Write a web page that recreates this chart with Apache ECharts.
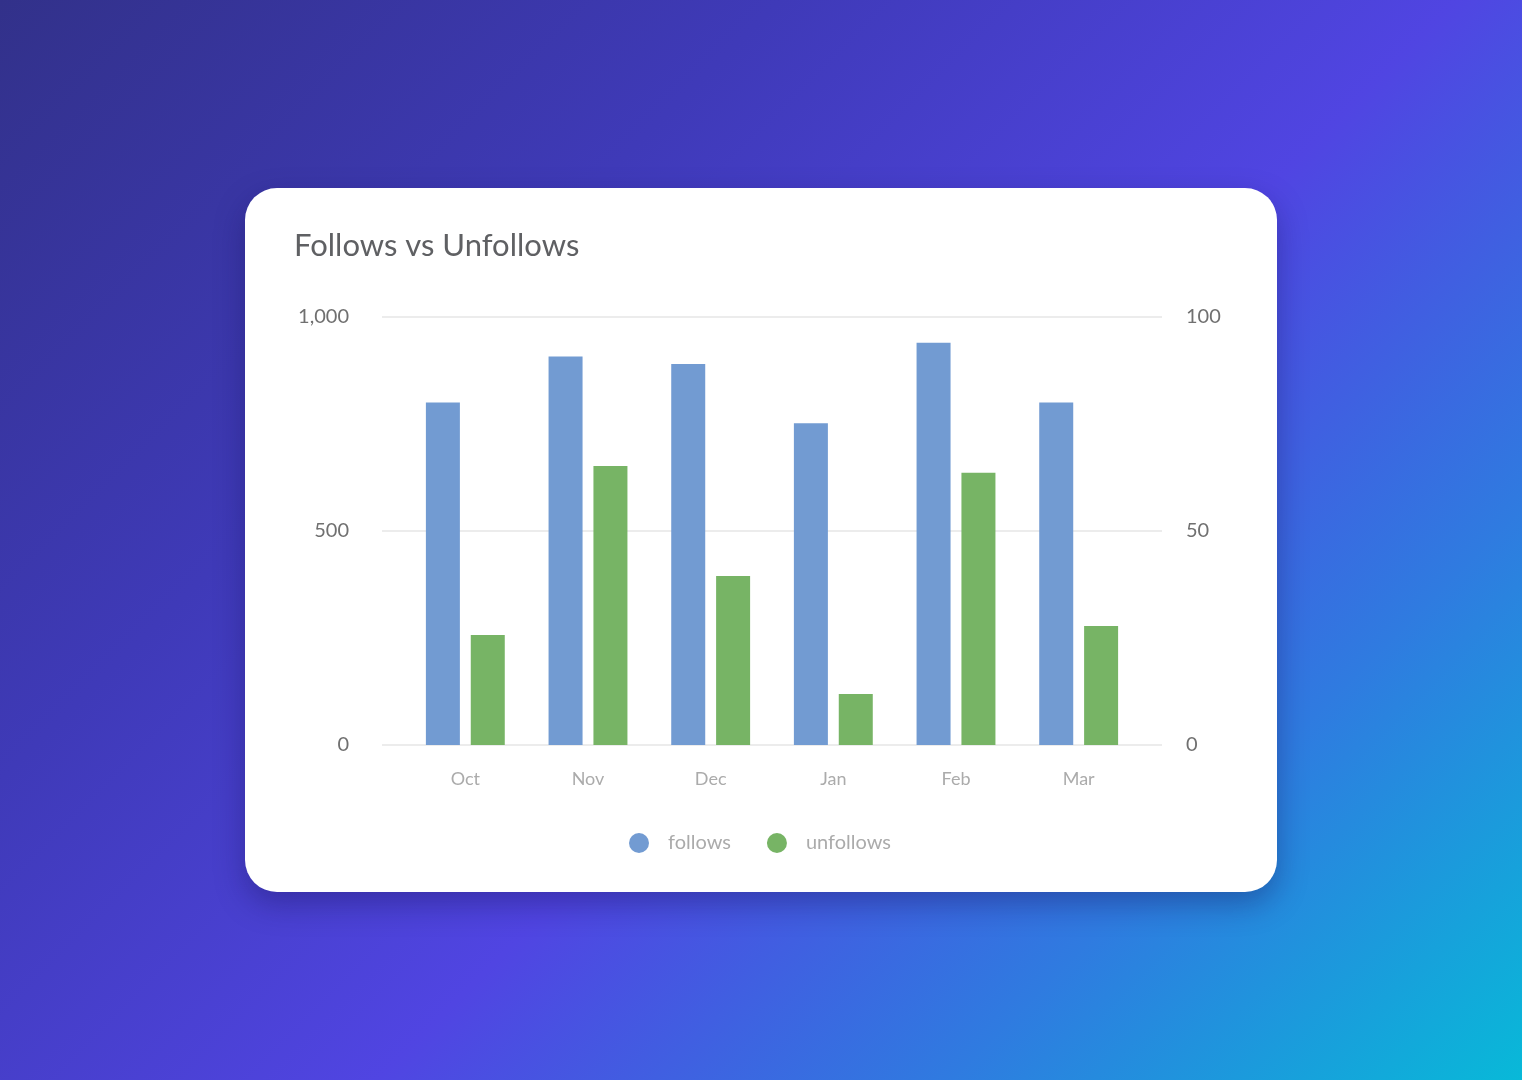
<!DOCTYPE html>
<html>
<head>
<meta charset="utf-8">
<script src="https://cdn.jsdelivr.net/npm/echarts@6/dist/echarts.min.js"></script>
<style>
  html, body { margin: 0; padding: 0; }
  body {
    width: 1522px; height: 1080px; overflow: hidden; position: relative;
    background: linear-gradient(135deg, #32318a 0%, #3f3ab8 30%, #5045e2 56%, #2f7be0 78%, #08b9d8 100%);
  }
  #card {
    position: absolute; left: 245px; top: 188px; width: 1032px; height: 704px;
    background: #fff; border-radius: 32px;
    box-shadow: 0 12px 30px rgba(20, 15, 80, 0.35);
  }
  #chart { width: 1032px; height: 704px; }
</style>
</head>
<body>
<div id="card"><div id="chart"></div></div>
<script>
var months = ["Oct", "Nov", "Dec", "Jan", "Feb", "Mar"];
var follows = [800, 908, 890, 752, 940, 800];
var unfollows = [25.7, 65.2, 39.5, 11.9, 63.6, 27.8];
var leftTicks = [0, 500, 1000];
var rightTicks = [0, 50, 100];

var font = "Lato";
var chart = echarts.init(document.getElementById("chart"));

var option = {
    animation: false,
    title: {
        text: "Follows vs Unfollows",
        left: 44,
        top: 37,
        textStyle: { fontFamily: font, fontSize: 31, fontWeight: "normal", color: "#5f6063" }
    },
    legend: {
        data: ["follows", "unfollows"],
        left: 379,
        bottom: 34,
        icon: "circle",
        itemWidth: 48,
        itemHeight: 20,
        itemGap: 36,
        textStyle: { fontFamily: font, fontSize: 20, color: "#ababab" }
    },
    // grid 0: wide, carries the split lines and tick labels
    // grid 1: narrower, carries the bars
    grid: [
        { left: 137, right: 115, top: 129, bottom: 147 },
        { left: 159, right: 137, top: 129, bottom: 147 }
    ],
    xAxis: [
        { type: "category", gridIndex: 0, data: months, show: false },
        {
            type: "category", gridIndex: 1, data: months,
            axisLine: { show: false }, axisTick: { show: false },
            axisLabel: { fontFamily: font, fontSize: 18, color: "#ababab", margin: 25 }
        }
    ],
    yAxis: [
        {
            type: "value", gridIndex: 0, min: 0, max: 1000, interval: 500,
            axisLine: { show: false }, axisTick: { show: false },
            axisLabel: {
                fontFamily: font, fontSize: 20, color: "#707070", margin: 33,
                formatter: function (v) { return leftTicks.indexOf(v) >= 0 ? v.toLocaleString("en-US") : ""; }
            },
            splitLine: { lineStyle: { color: "#e6e6e6", width: 1.5 } }
        },
        {
            type: "value", gridIndex: 0, min: 0, max: 100, interval: 50, position: "right",
            axisLine: { show: false }, axisTick: { show: false },
            axisLabel: {
                fontFamily: font, fontSize: 20, color: "#707070", margin: 24,
                formatter: function (v) { return rightTicks.indexOf(v) >= 0 ? String(v) : ""; }
            },
            splitLine: { show: false }
        },
        { type: "value", gridIndex: 1, min: 0, max: 1000, show: false },
        { type: "value", gridIndex: 1, min: 0, max: 100, show: false }
    ],
    series: [
        {
            name: "follows", type: "bar", xAxisIndex: 1, yAxisIndex: 2,
            data: follows, barWidth: 34, barGap: "32%",
            itemStyle: { color: "#729bd2" }
        },
        {
            name: "unfollows", type: "bar", xAxisIndex: 1, yAxisIndex: 3,
            data: unfollows, barWidth: 34, barGap: "32%",
            itemStyle: { color: "#77b465" }
        }
    ]
};
chart.setOption(option);
</script>
</body>
</html>
